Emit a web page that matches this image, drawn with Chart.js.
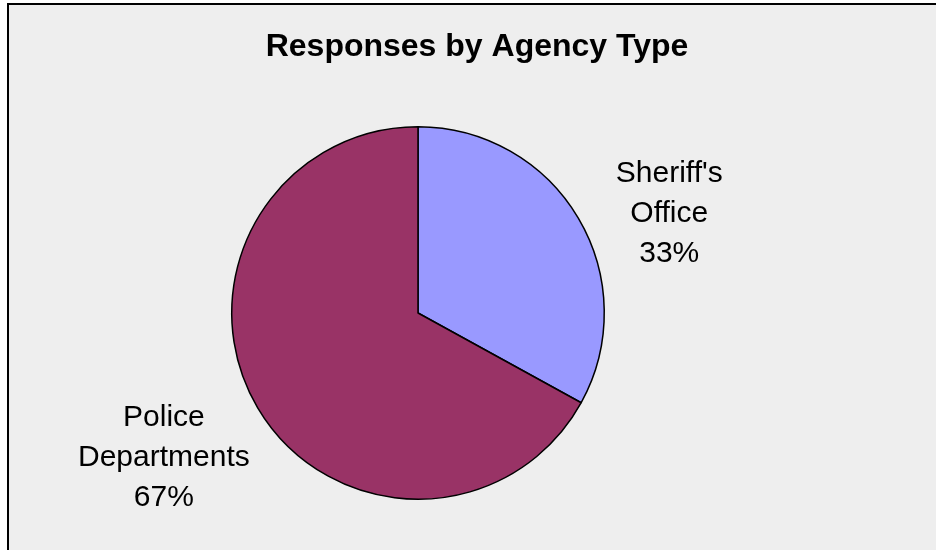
<!DOCTYPE html>
<html>
<head>
<meta charset="utf-8">
<title>Responses by Agency Type</title>
<script src="https://cdn.jsdelivr.net/npm/chart.js@4/dist/chart.umd.min.js"></script>
<style>
  html, body { margin: 0; padding: 0; background: #ffffff; }
  canvas { display: block; }
</style>
</head>
<body>
<canvas id="agencyChart" width="936" height="550"></canvas>
<script>
const chartTitle = 'Responses by Agency Type';
const agencyTypes = ['Sheriff\'s Office', 'Police Departments'];
const labelLines = [['Sheriff\'s', 'Office'], ['Police', 'Departments']];
const responseShare = [33, 67];
const sliceColors = ['#9999ff', '#993366'];

// how far outside the rim each label sits, and a small angle nudge (degrees)
const labelGap = [84, 106];
const labelNudge = [9, 1];

const FONT = '"Liberation Sans", Arial, sans-serif';

// panel background, frame and title
const panelPlugin = {
  id: 'panel',
  beforeDraw(chart) {
    const ctx = chart.ctx;
    ctx.save();
    ctx.fillStyle = '#ffffff';
    ctx.fillRect(0, 0, chart.width, chart.height);
    ctx.fillStyle = '#eeeeee';
    ctx.fillRect(8, 4, chart.width, chart.height);
    ctx.strokeStyle = '#000000';
    ctx.lineWidth = 2;
    ctx.beginPath();
    ctx.moveTo(8, chart.height + 5);
    ctx.lineTo(8, 4);
    ctx.lineTo(chart.width + 5, 4);
    ctx.stroke();

    ctx.fillStyle = '#000000';
    ctx.font = 'bold 32px ' + FONT;
    ctx.textAlign = 'center';
    ctx.textBaseline = 'alphabetic';
    ctx.fillText(chartTitle, 477, 56);
    ctx.restore();
  }
};

// category + percentage labels placed outside each slice
const sliceLabels = {
  id: 'sliceLabels',
  afterDatasetsDraw(chart) {
    const ctx = chart.ctx;
    const meta = chart.getDatasetMeta(0);
    ctx.save();
    ctx.fillStyle = '#000000';
    ctx.font = '30px ' + FONT;
    ctx.textAlign = 'center';
    ctx.textBaseline = 'middle';
    meta.data.forEach((arc, i) => {
      const p = arc.getProps(['x', 'y', 'startAngle', 'endAngle', 'outerRadius'], true);
      const mid = (p.startAngle + p.endAngle) / 2 + labelNudge[i] * Math.PI / 180;
      const r = p.outerRadius + labelGap[i];
      const cx = p.x + Math.cos(mid) * r;
      const cy = p.y + Math.sin(mid) * r;
      const lines = labelLines[i].concat([responseShare[i] + '%']);
      const lh = 40;
      lines.forEach((t, j) => {
        ctx.fillText(t, cx, cy + (j - (lines.length - 1) / 2) * lh);
      });
    });
    ctx.restore();
  }
};

new Chart(document.getElementById('agencyChart'), {
  type: 'pie',
  data: {
    labels: agencyTypes,
    datasets: [{
      data: responseShare,
      backgroundColor: sliceColors,
      borderColor: '#000000',
      borderWidth: 1.5,
      hoverOffset: 0
    }]
  },
  options: {
    responsive: false,
    devicePixelRatio: 1,
    animation: false,
    layout: {
      padding: { left: 231, right: 331, top: 126, bottom: 50 }
    },
    plugins: {
      legend: { display: false },
      tooltip: { enabled: false },
      title: { display: false }
    }
  },
  plugins: [panelPlugin, sliceLabels]
});
</script>
</body>
</html>
